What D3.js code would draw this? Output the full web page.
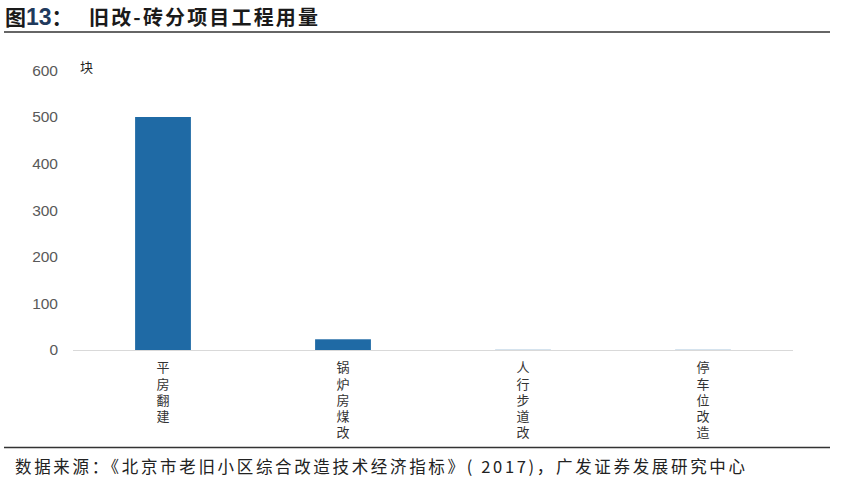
<!DOCTYPE html>
<html><head><meta charset="utf-8">
<script src="https://cdn.jsdelivr.net/npm/d3@7"></script>
<style>body{margin:0;background:#fff}svg{display:block}</style>
</head><body>
<svg id="c" width="847" height="500"></svg>
<script>
const categories = ["平房翻建", "锅炉房煤改", "人行步道改", "停车位改造"];
const values = [500, 23, 0.4, 0.4];
const yTicks = [0, 100, 200, 300, 400, 500, 600];
const unitLabel = "块";
const titlePrefix = "图";
const titleNum = "13";
const titleColon = "：";
const titleText = "旧改-砖分项目工程用量";
const sourceText = "数据来源：《北京市老旧小区综合改造技术经济指标》( 2017)，广发证券发展研究中心";

const svg = d3.select("#c");
const cjk = "'Noto Sans CJK SC', sans-serif";
const latin = "'Liberation Sans', Arial, sans-serif";

// Title
const t = svg.append("text").attr("x", 5).attr("y", 25)
  .attr("font-family", cjk).attr("font-size", 21).attr("font-weight", "bold").attr("fill", "#1a1a1a");
t.append("tspan").text(titlePrefix);
t.append("tspan").attr("font-family", latin).attr("font-size", 23).attr("fill", "#1f3a5c").text(titleNum);
t.append("tspan").text(titleColon);
svg.append("text").attr("x", 89).attr("y", 25)
  .attr("font-family", cjk).attr("font-size", 20).attr("font-weight", "bold").attr("fill", "#1a1a1a")
  .attr("textLength", 229).attr("lengthAdjust", "spacing").text(titleText);

svg.append("line").attr("x1", 4).attr("x2", 830).attr("y1", 32).attr("y2", 32)
  .attr("stroke", "#333").attr("stroke-width", 1.5);
svg.append("line").attr("x1", 4).attr("x2", 830).attr("y1", 447.5).attr("y2", 447.5)
  .attr("stroke", "#333").attr("stroke-width", 1.5);

const x = d3.scaleBand().domain(categories).range([73, 793]).paddingInner(0.69).paddingOuter(0.345);
const y = d3.scaleLinear().domain([0, 600]).range([350, 70.4]);

// y axis labels
const ya = svg.append("g").attr("transform", "translate(58,0)")
  .call(d3.axisLeft(y).tickValues(yTicks).tickSize(0).tickPadding(0));
ya.select(".domain").remove();
ya.selectAll("text").attr("font-family", latin)
  .attr("font-size", 15.5).attr("fill", "#595959");

svg.append("text").attr("x", 80).attr("y", 72).attr("font-family", cjk)
  .attr("font-size", 13).attr("fill", "#222").text(unitLabel);

// bars
svg.selectAll("rect.bar").data(values).join("rect").attr("class", "bar")
  .attr("x", (d, i) => x(categories[i]))
  .attr("width", x.bandwidth())
  .attr("y", d => y(d))
  .attr("height", d => y(0) - y(d))
  .attr("fill", "#1f6aa5");

// x axis line
svg.append("line").attr("x1", 73).attr("x2", 793).attr("y1", 350.5).attr("y2", 350.5)
  .attr("stroke", "#d9d9d9").attr("stroke-width", 1);

// vertical category labels
categories.forEach(c => {
  const cx = x(c) + x.bandwidth() / 2;
  svg.append("text").attr("font-family", cjk).attr("font-size", 13).attr("fill", "#333")
    .attr("x", cx).attr("y", 361)
    .style("writing-mode", "vertical-rl")
    .attr("letter-spacing", 3.2)
    .text(c);
});

// source
svg.append("text").attr("x", 15).attr("y", 473).attr("font-family", cjk)
  .attr("font-size", 16.5).attr("fill", "#222")
  .attr("textLength", 730).attr("lengthAdjust", "spacing").text(sourceText);
</script>
</body></html>
